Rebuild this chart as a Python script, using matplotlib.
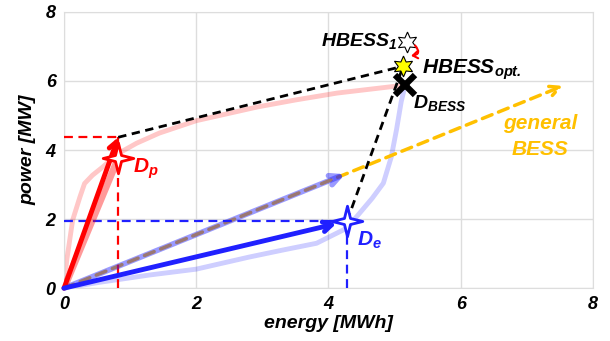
import numpy as np
import matplotlib.pyplot as plt
from matplotlib.path import Path

plt.rcParams['font.family'] = ['Liberation Sans', 'DejaVu Sans']
plt.rcParams['mathtext.fontset'] = 'custom'
plt.rcParams['mathtext.rm'] = 'Liberation Sans:bold:italic'
plt.rcParams['mathtext.it'] = 'Liberation Sans:bold:italic'
plt.rcParams['mathtext.bf'] = 'Liberation Sans:bold:italic'

# light background curves (energy [MWh], power [MW])
red_curve_e = [0, 0.04, 0.13, 0.24, 0.31, 0.43, 0.58, 0.82, 1.1, 1.44, 2.0, 2.93, 3.5, 4.13, 4.93, 5.16]
red_curve_p = [0, 0.8, 1.97, 2.64, 3.03, 3.27, 3.5, 3.9, 4.2, 4.49, 4.85, 5.25, 5.45, 5.65, 5.83, 5.88]
blue_curve_e = [0, 0.54, 1.29, 2.0, 2.8, 3.3, 3.82, 4.28, 4.47, 4.66, 4.83, 4.95, 5.03, 5.1, 5.16]
blue_curve_p = [0, 0.17, 0.38, 0.55, 0.9, 1.1, 1.3, 1.74, 2.17, 2.6, 3.04, 3.8, 4.6, 5.4, 5.88]

dp_corner = (0.82, 4.37)
dp_star = (0.82, 3.77)
de_point = (4.28, 1.94)
dbess = (5.16, 5.88)
hbess_opt = (5.13, 6.43)
hbess_1 = (5.19, 7.13)
general_tip = (7.55, 5.86)
general_mid = (4.25, 3.3)

RED, BLUE, ORANGE = '#FF0000', '#2020FF', '#FFC000'


def star4(inner=0.28):
    # concave four-pointed star
    verts = []
    for k in range(8):
        a = np.pi / 2 + k * np.pi / 4
        r = 1.0 if k % 2 == 0 else inner
        verts.append((r * np.cos(a), r * np.sin(a)))
    verts.append(verts[0])
    codes = [Path.MOVETO] + [Path.LINETO] * 7 + [Path.CLOSEPOLY]
    return Path(verts, codes)


fig = plt.figure(figsize=(6.1, 3.41), dpi=100)
ax = fig.add_axes([0.105, 0.155, 0.867, 0.81])
ax.set_xlim(0, 8)
ax.set_ylim(0, 8)
ax.set_xticks([0, 2, 4, 6, 8])
ax.set_yticks([0, 2, 4, 6, 8])
ax.grid(True, color='#DDDDDD', lw=1.0)
ax.set_axisbelow(True)
for s in ax.spines.values():
    s.set_color('#DDDDDD')
ax.tick_params(length=0, pad=6, labelsize=13)
for lab in ax.get_xticklabels() + ax.get_yticklabels():
    lab.set_fontweight('bold'); lab.set_fontstyle('italic')
ax.set_xlabel('energy [MWh]', fontsize=14, fontweight='bold', fontstyle='italic', labelpad=1)
ax.set_ylabel('power [MW]', fontsize=14, fontweight='bold', fontstyle='italic', labelpad=7)

# light curves
ax.plot(red_curve_e, red_curve_p, color=RED, alpha=0.22, lw=3.5, solid_capstyle='round', zorder=2)
ax.plot(blue_curve_e, blue_curve_p, color=BLUE, alpha=0.22, lw=3.5, solid_capstyle='round', zorder=2)

# general BESS dashed arrow
ax.annotate('', xy=general_tip, xytext=(0, 0),
            arrowprops=dict(arrowstyle='->,head_length=0.7,head_width=0.35', color=ORANGE, lw=2.5,
                            linestyle=(0, (3, 2)), shrinkA=0, shrinkB=0), zorder=3)
ax.annotate('', xy=general_mid, xytext=(0, 0),
            arrowprops=dict(arrowstyle='->,head_length=0.7,head_width=0.35', color=BLUE, alpha=0.45, lw=4,
                            shrinkA=0, shrinkB=0), zorder=4)

# black dashed connections
ax.plot([dp_corner[0], hbess_opt[0]], [dp_corner[1], hbess_opt[1]], color='black', lw=2, ls=(0, (3, 2)), zorder=5)
ax.plot([de_point[0], hbess_opt[0]], [de_point[1], hbess_opt[1]], color='black', lw=2, ls=(0, (3, 2)), zorder=5)

# D_p construction
ax.plot([0, dp_corner[0]], [dp_corner[1], dp_corner[1]], color=RED, lw=1.6, ls=(0, (4, 2.5)), zorder=3)
ax.plot([dp_corner[0], dp_corner[0]], [0, dp_corner[1]], color=RED, lw=1.6, ls=(0, (4, 2.5)), zorder=3)
ax.plot([0, dp_star[0]], [0, dp_star[1]], color=RED, alpha=0.4, lw=5, zorder=4)
ax.annotate('', xy=dp_corner, xytext=(0, 0),
            arrowprops=dict(arrowstyle='->,head_length=0.6,head_width=0.35', color=RED, lw=3.5,
                            shrinkA=0, shrinkB=0), zorder=6)

# D_e construction
ax.plot([0, de_point[0]], [de_point[1], de_point[1]], color=BLUE, lw=1.6, ls=(0, (4, 2.5)), zorder=3)
ax.plot([de_point[0], de_point[0]], [0, de_point[1]], color=BLUE, lw=1.6, ls=(0, (4, 2.5)), zorder=3)
ax.annotate('', xy=de_point, xytext=(0, 0),
            arrowprops=dict(arrowstyle='->,head_length=0.6,head_width=0.35', color=BLUE, lw=3.5,
                            shrinkA=0, shrinkB=8), zorder=6)

ax.plot(*dp_star, marker=star4(), ms=22, mfc='white', mec=RED, mew=2, zorder=8, clip_on=False)
ax.plot(*de_point, marker=star4(), ms=22, mfc='white', mec=BLUE, mew=2, zorder=8, clip_on=False)

# BESS markers
ax.plot(*dbess, marker='x', ms=14, mec='black', mew=4.5, zorder=8)
ax.plot(*hbess_opt, marker=(6, 1, 0), ms=15, mfc='#FFFF00', mec='black', mew=0.8, zorder=9)
ax.plot(*hbess_1, marker=(6, 1, 0), ms=15, mfc='white', mec='black', mew=0.8, zorder=9)
ax.annotate('', xy=(hbess_opt[0] + 0.12, hbess_opt[1] + 0.3), xytext=(hbess_1[0] + 0.12, hbess_1[1] - 0.1),
            arrowprops=dict(arrowstyle='->,head_length=0.35,head_width=0.25', color=RED, lw=1.5,
                            connectionstyle='arc3,rad=-0.9', shrinkA=0, shrinkB=0), zorder=9)

tkw = dict(fontweight='bold', fontstyle='italic')
ax.text(hbess_1[0] - 0.15, hbess_1[1] + 0.02, r'HBESS$_\mathregular{1}$', fontsize=14, ha='right', va='center', **tkw)
ax.text(hbess_opt[0] + 0.28, hbess_opt[1] - 0.1, r'HBESS$_\mathregular{opt.}$', fontsize=15, ha='left', va='center', **tkw)
ax.text(dbess[0] + 0.12, dbess[1] - 0.52, r'D$_\mathregular{BESS}$', fontsize=14, ha='left', va='center', **tkw)
ax.text(dp_star[0] + 0.22, dp_star[1] - 0.3, r'D$_\mathregular{p}$', fontsize=15, color=RED, ha='left', va='center', **tkw)
ax.text(de_point[0] + 0.15, de_point[1] - 0.55, r'D$_\mathregular{e}$', fontsize=15, color=BLUE, ha='left', va='center', **tkw)
ax.text(7.2, 4.4, 'general\nBESS', fontsize=15, color=ORANGE, ha='center', va='center', linespacing=1.45, **tkw)

fig.savefig('out.png', dpi=100)
